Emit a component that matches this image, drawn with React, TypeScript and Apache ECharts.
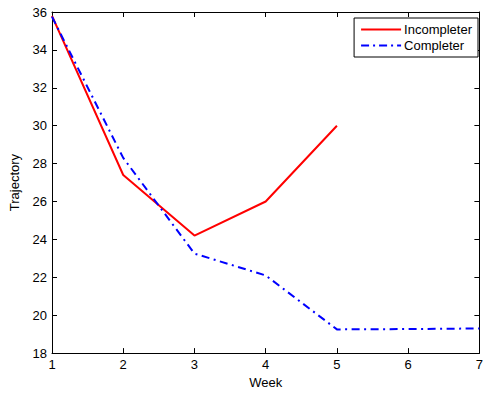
import React, { useEffect, useRef } from "react";
import * as echarts from "echarts";

const weeks = [1, 2, 3, 4, 5, 6, 7];
const incompleter = [35.8, 27.4, 24.2, 26.0, 30.0];
const completer = [35.75, 28.3, 23.25, 22.1, 19.25, 19.27, 19.3];
const yTicks = [18, 20, 22, 24, 26, 28, 30, 32, 34, 36];

const FONT = "'Liberation Sans', Arial, sans-serif";

export default function App() {
  const ref = useRef<HTMLDivElement>(null);
  useEffect(() => {
    if (!ref.current) return;
    const chart = echarts.init(ref.current, null, { renderer: "svg" });
    const axisCommon = {
      axisLine: { show: true, lineStyle: { color: "#000", width: 1 } },
      axisTick: { show: true, inside: true, length: 5, lineStyle: { color: "#000" } },
      splitLine: { show: false },
    };
    chart.setOption({
      animation: false,
      backgroundColor: "#fff",
      textStyle: { fontFamily: FONT },
      grid: { left: 49, right: 2, top: 12, bottom: 40, containLabel: false },
      legend: {
        orient: "vertical",
        right: 8,
        top: 18,
        backgroundColor: "#fff",
        borderColor: "#000",
        borderWidth: 1,
        padding: [5, 6, 5, 7],
        itemGap: 3,
        itemWidth: 40,
        itemHeight: 14,
        textStyle: { fontFamily: FONT, fontSize: 13, color: "#000", padding: [0, 0, 0, -2] },
        data: [
          { name: "Incompleter", icon: "path://M0,6H40V8H0Z" },
          { name: "Completer", icon: "path://M0,6H8V8H0Z M12,6H14V8H12Z M18,6H26V8H18Z M30,6H32V8H30Z M36,6H40V8H36Z" },
        ],
      },
      xAxis: [
        {
          type: "value",
          min: 1,
          max: 7,
          interval: 1,
          position: "bottom",
          name: "Week",
          nameLocation: "middle",
          nameGap: 21,
          nameTextStyle: { fontFamily: FONT, fontSize: 13, color: "#000" },
          axisLabel: { color: "#000", fontSize: 13, fontFamily: FONT, margin: 5 },
          ...axisCommon,
        },
        {
          type: "value",
          min: 1,
          max: 7,
          interval: 1,
          position: "top",
          axisLabel: { show: false },
          ...axisCommon,
        },
      ],
      yAxis: [
        {
          type: "value",
          min: 18,
          max: 36,
          interval: 2,
          position: "left",
          name: "Trajectory",
          nameLocation: "middle",
          nameGap: 31,
          nameTextStyle: { fontFamily: FONT, fontSize: 13, color: "#000" },
          axisLabel: {
            color: "#000",
            fontSize: 13,
            fontFamily: FONT,
            margin: 5,
            formatter: (v: number) => (yTicks.includes(v) ? String(v) : ""),
          },
          ...axisCommon,
        },
        {
          type: "value",
          min: 18,
          max: 36,
          interval: 2,
          position: "right",
          axisLabel: { show: false },
          ...axisCommon,
        },
      ],
      series: [
        {
          name: "Incompleter",
          type: "line",
          symbol: "none",
          color: "#ff0000",
          lineStyle: { color: "#ff0000", width: 2 },
          data: incompleter.map((v, i) => [weeks[i], v]),
        },
        {
          name: "Completer",
          type: "line",
          symbol: "none",
          color: "#0000ff",
          lineStyle: { color: "#0000ff", width: 2, type: [8, 4.5, 2, 4.5] },
          data: completer.map((v, i) => [weeks[i], v]),
        },
      ],
    });
    return () => chart.dispose();
  }, []);
  return <div ref={ref} style={{ width: 486, height: 394, position: "absolute", left: 0, top: 0 }} />;
}
